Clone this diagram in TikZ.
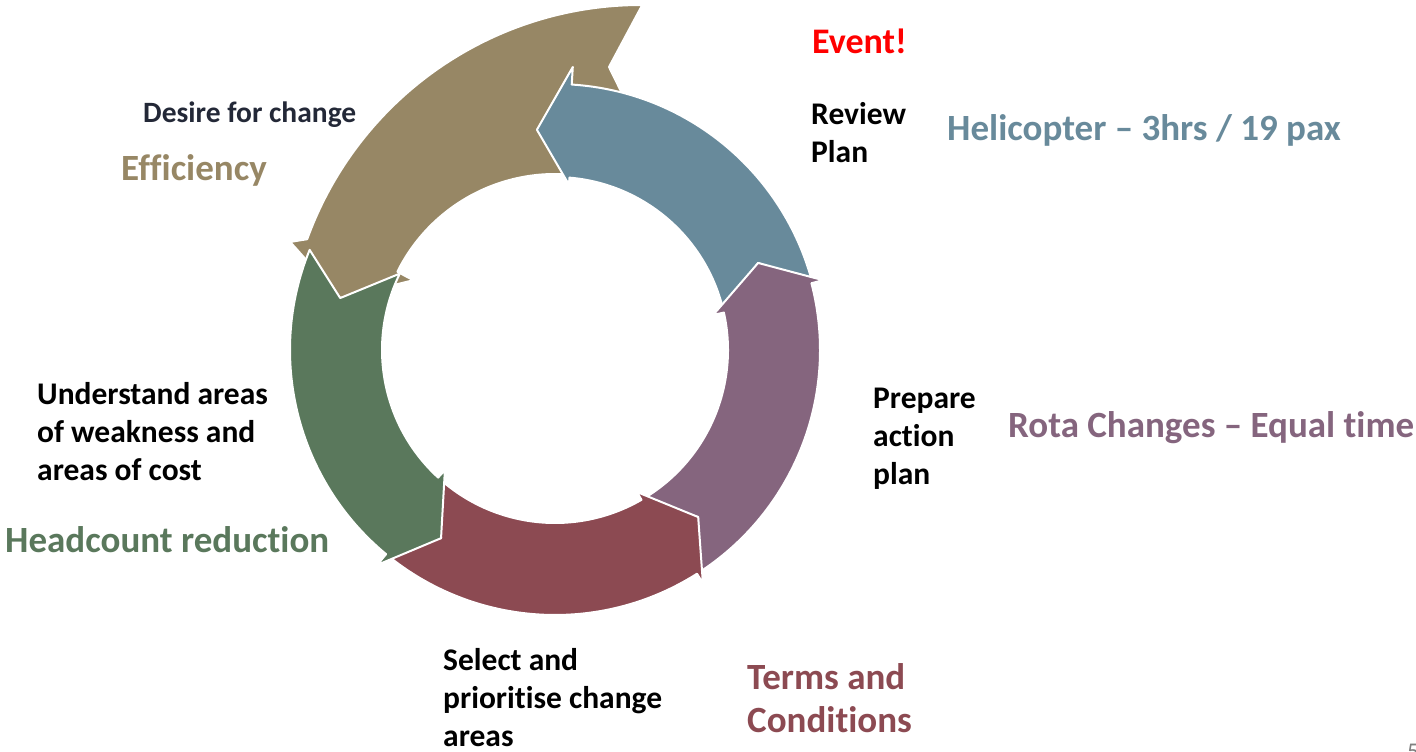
\documentclass[tikz,border=0pt]{standalone}
\usepackage{fontspec}
\setmainfont{Carlito}[Ligatures={NoCommon}]
\usetikzlibrary{calc}
\definecolor{tanC}{RGB}{151,135,101}
\definecolor{blueC}{RGB}{104,138,155}
\definecolor{purpC}{RGB}{133,101,126}
\definecolor{redC}{RGB}{140,74,82}
\definecolor{greenC}{RGB}{90,120,92}
\definecolor{navyC}{RGB}{35,40,55}
\definecolor{evRed}{RGB}{255,0,0}
\definecolor{numGray}{RGB}{128,128,128}
\begin{document}
\begin{tikzpicture}[x=1pt,y=1pt,
  seg/.style={draw=white, line width=2pt, line join=round},
  blk/.style={anchor=base west, inner sep=0pt, font=\bfseries\fontsize{31.5}{38}\selectfont, text=black},
  big/.style={anchor=base west, inner sep=0pt, font=\bfseries\fontsize{37}{43}\selectfont},
]
\useasboundingbox (0,0) rectangle (1416,-752);
\coordinate (O) at (555,-350);
\coordinate (Ot) at (641,-360);

% tan arrow (enlarged)
\path[seg, fill=tanC]
  ($(Ot)+(89.8:355pt)$) arc[start angle=89.8, end angle=160.1, radius=355pt]
  -- ($(O)+(157.8:286pt)$) -- ($(O)+(166.4:221pt)$) -- ($(O)+(153.8:158pt)$)
  -- ($(O)+(153.6:176pt)$) arc[start angle=153.6, end angle=84, radius=176pt]
  -- (640,-130) -- (609,-67) -- cycle;

% blue arrow
\path[seg, fill=blueC]
  ($(O)+(14.6:266pt)$) arc[start angle=14.6, end angle=86.4, radius=266pt]
  -- ($(O)+(86.4:283.6pt)$) -- ($(O)+(94.7:221pt)$) -- ($(O)+(85.2:166pt)$)
  -- ($(O)+(85.2:173pt)$) arc[start angle=85.2, end angle=12.5, radius=173pt]
  -- ($(O)+(23.2:221pt)$) -- cycle;

% purple arrow
\path[seg, fill=purpC]
  ($(O)+(302.4:265pt)$) arc[start angle=302.4, end angle=374.6, radius=265pt]
  -- ($(O)+(374.6:277pt)$) -- ($(O)+(383.2:221pt)$) -- ($(O)+(372.5:162pt)$)
  -- ($(O)+(372.5:173pt)$) arc[start angle=372.5, end angle=300, radius=173pt]
  -- ($(O)+(310.6:220pt)$) -- cycle;

% red arrow
\path[seg, fill=redC]
  ($(O)+(230.4:265pt)$) arc[start angle=230.4, end angle=302.4, radius=265pt]
  -- ($(O)+(302.4:276pt)$) -- ($(O)+(310.6:220pt)$) -- ($(O)+(300:164pt)$)
  -- ($(O)+(300:173pt)$) arc[start angle=300, end angle=227.5, radius=173pt]
  -- ($(O)+(238.8:220pt)$) -- cycle;

% green arrow
\path[seg, fill=greenC]
  ($(O)+(157.8:265pt)$) arc[start angle=157.8, end angle=230.4, radius=265pt]
  -- ($(O)+(230.4:279pt)$) -- ($(O)+(238.8:220pt)$) -- ($(O)+(227.5:163pt)$)
  -- ($(O)+(227.5:173pt)$) arc[start angle=227.5, end angle=153.8, radius=173pt]
  -- ($(O)+(166.4:221pt)$) -- cycle;

% labels
\node[anchor=base west, inner sep=0pt, font=\bfseries\fontsize{36}{43}\selectfont, text=evRed] (event) at (812,-53) {Event!};
\node[blk] (rev1) at (811,-124) {Review};
\node[blk] (rev2) at (811,-162) {Plan};
\node[big, text=blueC] (heli) at (947,-140) {Helicopter – 3hrs / 19 pax};
\node[anchor=base west, inner sep=0pt, font=\bfseries\fontsize{29.5}{35}\selectfont, text=navyC] (desire) at (143,-122) {Desire for change};
\node[big, text=tanC] (eff) at (121,-180) {Efficiency};
\node[blk] (prep1) at (873,-408) {Prepare};
\node[blk] (prep2) at (873,-446) {action};
\node[blk] (prep3) at (873,-484) {plan};
\node[big, text=purpC] (rota) at (1008,-437) {Rota Changes – Equal time};
\node[blk] (und1) at (37,-404) {Understand areas};
\node[blk] (und2) at (37,-442) {of weakness and};
\node[blk] (und3) at (37,-480) {areas of cost};
\node[big, text=greenC] (headc) at (5,-552) {Headcount reduction};
\node[blk] (sel1) at (443,-670) {Select and};
\node[blk] (sel2) at (443,-708) {prioritise change};
\node[blk] (sel3) at (443,-746) {areas};
\node[big, text=redC] (terms1) at (747,-689) {Terms and};
\node[big, text=redC] (terms2) at (747,-732) {Conditions};
\node[anchor=base west, inner sep=0pt, font=\fontsize{24}{26}\selectfont, text=numGray] (pgnum) at (1407,-759) {5};
\end{tikzpicture}
\end{document}
